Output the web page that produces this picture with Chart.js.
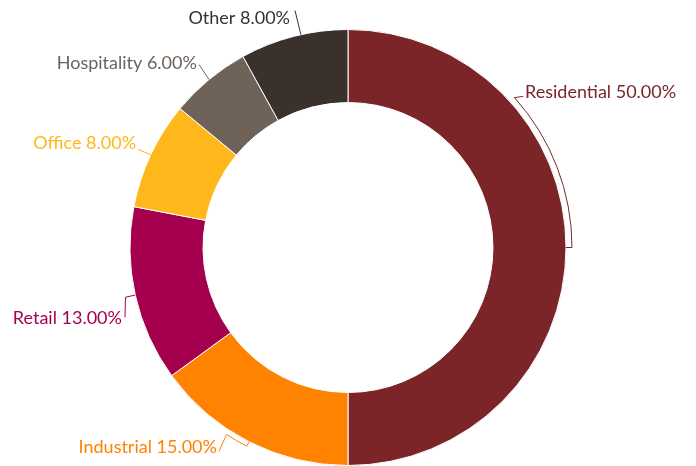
<!DOCTYPE html>
<html>
<head>
<meta charset="utf-8">
<script src="https://cdn.jsdelivr.net/npm/chart.js@4"></script>
<style>
  html, body { margin: 0; padding: 0; background: #ffffff; }
  #wrap { width: 696px; height: 466px; }
</style>
</head>
<body>
<div id="wrap"><canvas id="c" width="696" height="466"></canvas></div>
<script>
const categories = ["Residential", "Industrial", "Retail", "Office", "Hospitality", "Other"];
const shares = [50, 15, 13, 8, 6, 8];
const sliceColors = ["#7C2529", "#FF8200", "#A5004E", "#FFB71B", "#6E6259", "#3A302C"];

// Label layout (styling only): offsets in units of the outer radius from the centre
const labelLayout = [
  { tick: 6, arcTo: 48,  end: [0.803, -0.693], text: [0.812, -0.711], align: "left" },
  { tick: 5, arcTo: 213, end: [-0.592, 0.936], text: [-0.601, 0.916], align: "right" },
  { tick: 10, arcTo: null, end: [-1.023, 0.321], text: [-1.037, 0.324], align: "right" },
  { tick: 0, arcTo: null, end: [-0.963, -0.450], text: [-0.972, -0.479], align: "right" },
  { tick: 0, arcTo: null, end: [-0.683, -0.839], text: [-0.693, -0.846], align: "right" },
  { tick: 3, arcTo: null, startDeg: 347.5, end: [-0.243, -1.087], text: [-0.266, -1.052], align: "right" }
];

const leaderPlugin = {
  id: "leaders",
  afterDatasetsDraw(chart) {
    const ctx = chart.ctx;
    const meta = chart.getDatasetMeta(0);
    meta.data.forEach((arc, i) => {
      const p = arc.getProps(["x", "y", "startAngle", "endAngle", "outerRadius"], true);
      const cx = p.x, cy = p.y, R = p.outerRadius;
      const L = labelLayout[i];
      let mid = (p.startAngle + p.endAngle) / 2;
      if (L.startDeg != null) mid = (L.startDeg - 90) * Math.PI / 180;
      const col = sliceColors[i];
      ctx.save();
      ctx.strokeStyle = col;
      ctx.lineWidth = 1;
      ctx.beginPath();
      ctx.moveTo(cx + R * Math.cos(mid), cy + R * Math.sin(mid));
      const r2 = R + L.tick;
      ctx.lineTo(cx + r2 * Math.cos(mid), cy + r2 * Math.sin(mid));
      if (L.arcTo != null) {
        const a2 = (L.arcTo - 90) * Math.PI / 180;
        ctx.arc(cx, cy, r2, mid, a2, a2 < mid);
      }
      ctx.lineTo(cx + L.end[0] * R, cy + L.end[1] * R);
      ctx.stroke();
      ctx.fillStyle = col;
      ctx.font = "18px Lato";
      ctx.textAlign = L.align;
      ctx.textBaseline = "middle";
      const txt = categories[i] + " " + shares[i].toFixed(2) + "%";
      ctx.fillText(txt, cx + L.text[0] * R, cy + L.text[1] * R);
      ctx.restore();
    });
  }
};

new Chart(document.getElementById("c"), {
  type: "doughnut",
  data: {
    labels: categories,
    datasets: [{
      data: shares,
      backgroundColor: sliceColors,
      borderColor: "#ffffff",
      borderWidth: 1
    }]
  },
  options: {
    responsive: false,
    animation: false,
    cutout: "66.5%",
    layout: { padding: { top: 29, bottom: 0, left: 0, right: 0 } },
    plugins: { legend: { display: false }, tooltip: { enabled: false } }
  },
  plugins: [leaderPlugin]
});
</script>
</body>
</html>
